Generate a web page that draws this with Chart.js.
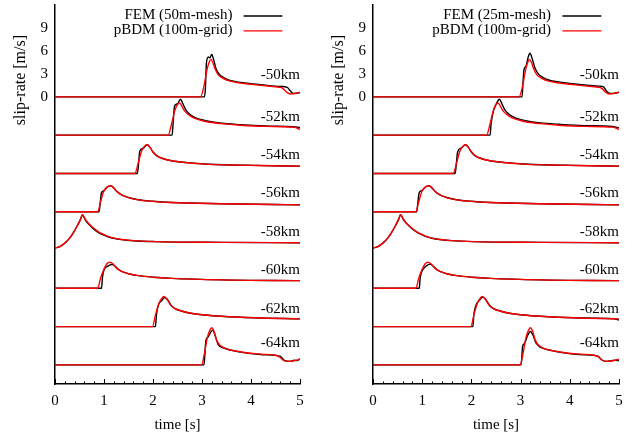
<!DOCTYPE html>
<html>
<head>
<meta charset="utf-8">
<script src="https://cdn.jsdelivr.net/npm/chart.js@4"></script>
<style>
  body { margin: 0; background: #fff; }
  #wrap { position: relative; width: 639px; height: 437px; }
  canvas { position: absolute; top: 0; }
</style>
</head>
<body>
<div id="wrap">
  <canvas id="chart-left" width="320" height="437" style="left:0"></canvas>
  <canvas id="chart-right" width="319" height="437" style="left:320px"></canvas>
</div>
<script>
// stations along the fault, each trace shifted down by offsetStep m/s
const stations   = ['-50km', '-52km', '-54km', '-56km', '-58km', '-60km', '-62km', '-64km']
const offsetStep = 5
const yTickVals  = [0, 3, 6, 9]
const seriesNames = {
  left:  ['FEM (50m-mesh)', 'pBDM (100m-grid)'],
  right: ['FEM (25m-mesh)', 'pBDM (100m-grid)'],
}

// [time s, slip-rate m/s]
const pbdmKm50 = [[0,0],[2.97,0],[3.04,1.4],[3.1,3.5],[3.15,4.6],[3.18,4.9],[3.22,4.5],[3.27,3.6],[3.33,2.9],[3.42,2.45],[3.57,2.05],[3.8,1.8],[4.0,1.65],[4.3,1.45],[4.58,1.25],[4.64,1.15],[4.73,0.6],[4.8,0.38],[4.9,0.45],[5,0.6]]
const pbdmKm52 = [[0,0],[2.31,0],[2.38,1.5],[2.45,3.3],[2.5,4.0],[2.54,4.2],[2.58,3.9],[2.64,3.2],[2.72,2.7],[2.82,2.3],[2.95,2.0],[3.1,1.75],[3.4,1.5],[3.78,1.3],[4.3,1.15],[4.86,1.05],[4.95,0.9],[5,0.75]]
const pbdmKm54 = [[0,0],[1.63,0],[1.7,1.4],[1.76,2.8],[1.82,3.5],[1.88,3.75],[1.94,3.4],[2.0,2.8],[2.08,2.3],[2.2,1.95],[2.38,1.65],[2.7,1.4],[3.06,1.22],[3.6,1.1],[4.08,1.04],[5,0.95]]
const pbdmKm56 = [[0,0],[0.87,0],[0.93,1.3],[0.99,2.6],[1.06,3.2],[1.14,3.4],[1.2,3.1],[1.27,2.6],[1.36,2.2],[1.5,1.85],[1.7,1.55],[2.0,1.35],[2.38,1.2],[3.4,1.05],[5,0.9]]
const pbdmKm58 = [[0,0.25],[0.1,0.45],[0.2,0.9],[0.3,1.55],[0.37,2.2],[0.45,3.1],[0.52,4.0],[0.56,4.6],[0.62,4.0],[0.68,3.5],[0.78,2.9],[0.88,2.4],[1.0,2.0],[1.09,1.75],[1.2,1.55],[1.36,1.37],[1.6,1.22],[2.04,1.1],[3.4,1.0],[5,0.95]]
const pbdmKm60 = [[0,0],[0.87,0],[0.93,1.3],[1.0,2.5],[1.06,3.2],[1.11,3.4],[1.18,3.2],[1.26,2.6],[1.36,2.2],[1.5,1.9],[1.7,1.65],[2.0,1.45],[2.38,1.3],[3.4,1.1],[5,1.0]]
const pbdmKm62 = [[0,0],[1.99,0],[2.05,1.5],[2.12,3.0],[2.18,3.7],[2.22,3.95],[2.28,3.6],[2.36,2.8],[2.45,2.35],[2.6,2.0],[2.72,1.8],[3.0,1.55],[3.4,1.35],[4.08,1.15],[5,1.0]]
const pbdmKm64 = [[0,0],[2.99,0],[3.05,1.5],[3.11,3.6],[3.16,4.5],[3.2,4.85],[3.25,4.3],[3.3,3.2],[3.38,2.5],[3.54,2.0],[3.75,1.75],[3.95,1.55],[4.2,1.4],[4.49,1.25],[4.58,1.05],[4.66,0.6],[4.75,0.45],[4.85,0.5],[5,0.75]]

const fem50mKm50 = [[0,0],[3.05,0],[3.07,1.2],[3.09,4.4],[3.13,5.2],[3.16,5.1],[3.2,5.55],[3.24,4.8],[3.29,3.6],[3.36,2.9],[3.45,2.5],[3.57,2.15],[3.8,1.88],[4.0,1.72],[4.3,1.52],[4.6,1.36],[4.74,1.25],[4.8,0.8],[4.86,0.45],[4.94,0.5],[5,0.55]]
const fem50mKm52 = [[0,0],[2.39,0],[2.41,1.5],[2.44,3.8],[2.5,4.1],[2.56,4.7],[2.61,4.1],[2.67,3.3],[2.74,2.8],[2.84,2.35],[2.95,2.08],[3.1,1.85],[3.4,1.56],[3.78,1.38],[4.3,1.2],[4.86,1.1],[5,1.0]]
const fem50mKm54 = [[0,0],[1.68,0],[1.7,0.9],[1.73,2.9],[1.8,3.3],[1.88,3.75],[1.94,3.4],[2.0,2.8],[2.08,2.3],[2.2,1.95],[2.38,1.66],[2.7,1.42],[3.06,1.23],[3.6,1.1],[4.08,1.05],[5,0.95]]
const fem50mKm56 = [[0,0],[0.9,0],[0.92,1.0],[0.95,2.5],[1.0,2.75],[1.06,3.2],[1.14,3.4],[1.2,3.1],[1.27,2.6],[1.36,2.2],[1.5,1.86],[1.7,1.56],[2.0,1.36],[2.38,1.21],[3.4,1.05],[5,0.9]]
const fem50mKm58 = [[0,0.25],[0.1,0.45],[0.2,0.9],[0.3,1.55],[0.37,2.2],[0.45,3.1],[0.52,4.0],[0.56,4.6],[0.62,3.9],[0.7,3.3],[0.8,2.7],[0.9,2.25],[1.0,1.95],[1.1,1.7],[1.2,1.53],[1.36,1.36],[1.6,1.21],[2.04,1.1],[3.4,1.0],[5,0.95]]
const fem50mKm60 = [[0,0],[0.95,0],[0.97,1.5],[1.0,2.4],[1.08,2.9],[1.17,3.1],[1.24,2.8],[1.3,2.45],[1.36,2.2],[1.5,1.9],[1.7,1.65],[2.0,1.45],[2.38,1.3],[3.4,1.1],[5,1.0]]
const fem50mKm62 = [[0,0],[2.05,0],[2.07,1.5],[2.11,2.8],[2.18,3.4],[2.24,3.8],[2.3,3.5],[2.37,2.75],[2.45,2.35],[2.6,2.0],[2.72,1.8],[3.0,1.55],[3.4,1.35],[4.08,1.15],[5,1.0]]
const fem50mKm64 = [[0,0],[3.04,0],[3.06,1.5],[3.08,3.2],[3.12,3.6],[3.18,4.3],[3.22,4.5],[3.27,3.8],[3.33,2.65],[3.45,2.2],[3.54,2.0],[3.75,1.7],[3.95,1.5],[4.2,1.35],[4.49,1.25],[4.6,1.1],[4.69,0.55],[4.8,0.45],[4.88,0.6],[4.94,0.55],[5,0.8]]

const fem25mKm50 = [[0,0],[3.03,0],[3.05,2.0],[3.07,3.6],[3.11,4.0],[3.15,5.1],[3.19,5.7],[3.24,4.9],[3.29,3.8],[3.36,3.0],[3.45,2.55],[3.57,2.2],[3.8,1.92],[4.0,1.75],[4.3,1.55],[4.6,1.4],[4.68,1.33],[4.74,0.8],[4.8,0.5],[4.88,0.45],[5,0.6]]
const fem25mKm52 = [[0,0],[2.38,0],[2.4,1.5],[2.45,3.2],[2.5,4.0],[2.57,4.7],[2.62,4.1],[2.68,3.3],[2.76,2.75],[2.86,2.35],[2.97,2.08],[3.1,1.88],[3.4,1.6],[3.78,1.42],[4.3,1.25],[4.86,1.15],[5,0.95]]
const fem25mKm54 = [[0,0],[1.67,0],[1.69,1.0],[1.72,2.8],[1.8,3.35],[1.88,3.75],[1.94,3.4],[2.0,2.8],[2.08,2.3],[2.2,1.95],[2.38,1.66],[2.7,1.42],[3.06,1.23],[3.6,1.1],[4.08,1.05],[5,0.95]]
const fem25mKm56 = [[0,0],[0.89,0],[0.91,1.1],[0.94,2.5],[1.0,2.8],[1.06,3.2],[1.14,3.4],[1.2,3.1],[1.27,2.6],[1.36,2.2],[1.5,1.86],[1.7,1.56],[2.0,1.36],[2.38,1.21],[3.4,1.05],[5,0.9]]
const fem25mKm58 = [[0,0.25],[0.1,0.45],[0.2,0.9],[0.3,1.55],[0.37,2.2],[0.45,3.1],[0.52,4.0],[0.56,4.6],[0.62,3.95],[0.7,3.35],[0.8,2.75],[0.9,2.3],[1.0,1.97],[1.1,1.72],[1.2,1.54],[1.36,1.37],[1.6,1.22],[2.04,1.1],[3.4,1.0],[5,0.95]]
const fem25mKm60 = [[0,0],[0.94,0],[0.96,1.4],[1.0,2.3],[1.08,2.9],[1.16,3.15],[1.23,2.85],[1.3,2.45],[1.36,2.2],[1.5,1.9],[1.7,1.65],[2.0,1.45],[2.38,1.3],[3.4,1.1],[5,1.0]]
const fem25mKm62 = [[0,0],[2.03,0],[2.05,1.6],[2.1,2.9],[2.17,3.5],[2.23,3.85],[2.29,3.55],[2.37,2.75],[2.45,2.35],[2.6,2.0],[2.72,1.8],[3.0,1.55],[3.4,1.35],[4.08,1.15],[4.9,1.0],[5,0.85]]
const fem25mKm64 = [[0,0],[3.01,0],[3.03,1.5],[3.04,2.4],[3.08,2.8],[3.14,3.8],[3.2,4.35],[3.25,3.9],[3.31,2.9],[3.4,2.3],[3.54,2.0],[3.75,1.7],[3.95,1.5],[4.2,1.35],[4.49,1.25],[4.58,1.1],[4.66,0.6],[4.75,0.45],[4.85,0.55],[4.92,0.6],[5,0.55]]

const pbdm  = [pbdmKm50, pbdmKm52, pbdmKm54, pbdmKm56, pbdmKm58, pbdmKm60, pbdmKm62, pbdmKm64]
const fem50 = [fem50mKm50, fem50mKm52, fem50mKm54, fem50mKm56, fem50mKm58, fem50mKm60, fem50mKm62, fem50mKm64]
const fem25 = [fem25mKm50, fem25mKm52, fem25mKm54, fem25mKm56, fem25mKm58, fem25mKm60, fem25mKm62, fem25mKm64]

// how far above each baseline the station name sits (m/s)
const labelLift = [2.9, 2.4, 2.35, 2.4, 2.4, 2.4, 2.3, 2.85]

const FONT = "'Liberation Serif', 'DejaVu Serif', serif"
const RED = '#ff0000'
const BLACK = '#000000'

function traceSet(fem, names) {
  const sets = []
  stations.forEach((st, i) => {
    const shift = -i * offsetStep
    sets.push({
      label: `${names[0]} ${st}`,
      data: fem[i].map(([t, v]) => ({ x: t, y: v + shift })),
      borderColor: BLACK, borderWidth: 1.4, order: 1,
    })
    sets.push({
      label: `${names[1]} ${st}`,
      data: pbdm[i].map(([t, v]) => ({ x: t, y: v + shift })),
      borderColor: RED, borderWidth: 1.4, order: 0,
    })
  })
  return sets.map(s => ({ ...s, pointRadius: 0, fill: false, cubicInterpolationMode: 'monotone' }))
}

const decor = {
  id: 'decor',
  afterDraw(chart, args, opts) {
    const { ctx, chartArea: a, scales: { x, y } } = chart
    ctx.save()

    // inward ticks on the time axis
    ctx.strokeStyle = '#000'; ctx.lineWidth = 1
    for (let i = 0; i <= 25; i++) {
      const px = Math.round(x.getPixelForValue(i / 5)) + 0.5
      const len = i % 5 === 0 ? 5 : 2.5
      ctx.beginPath(); ctx.moveTo(px, a.bottom); ctx.lineTo(px, a.bottom - len); ctx.stroke()
    }

    // station names
    ctx.fillStyle = '#000'
    ctx.font = `15px ${FONT}`
    ctx.textAlign = 'right'; ctx.textBaseline = 'middle'
    stations.forEach((st, i) => {
      ctx.fillText(st, x.getPixelForValue(5), y.getPixelForValue(-i * offsetStep + labelLift[i]))
    })

    // legend: text then line sample to the right
    const legendRows = [[opts.names[0], BLACK, 10.7], [opts.names[1], RED, 8.75]]
    legendRows.forEach(([txt, col, v]) => {
      const py = y.getPixelForValue(v)
      ctx.fillStyle = '#000'
      ctx.fillText(txt, x.getPixelForValue(3.62), py)
      ctx.strokeStyle = col; ctx.lineWidth = 1.4
      ctx.beginPath()
      ctx.moveTo(x.getPixelForValue(3.85), py + 1)
      ctx.lineTo(x.getPixelForValue(4.64), py + 1)
      ctx.stroke()
    })

    // y title, gnuplot puts it high up
    ctx.translate(a.left - 34, y.getPixelForValue(2.2))
    ctx.rotate(-Math.PI / 2)
    ctx.textAlign = 'center'
    ctx.font = `16px ${FONT}`
    ctx.fillStyle = '#000'
    ctx.fillText('slip-rate [m/s]', 0, 0)
    ctx.restore()
  },
}

function makeChart(id, fem, names, yWidth) {
  return new Chart(document.getElementById(id), {
    type: 'line',
    data: { datasets: traceSet(fem, names) },
    options: {
      responsive: false,
      devicePixelRatio: 1,
      animation: false,
      layout: { padding: { left: 0, right: 20, top: 5, bottom: 0 } },
      plugins: { legend: { display: false }, tooltip: { enabled: false }, decor: { names } },
      scales: {
        x: {
          type: 'linear', min: 0, max: 5,
          grid: { display: false, drawTicks: false },
          border: { display: true, color: '#000', width: 1.5 },
          ticks: { stepSize: 1, color: '#000', padding: 8, font: { family: FONT, size: 15 } },
          title: { display: true, text: 'time [s]', color: '#000', padding: { top: 0, bottom: 3 }, font: { family: FONT, size: 15 } },
          afterFit: s => { s.height = 53; s.paddingLeft = 0; s.paddingRight = 0 },
        },
        y: {
          min: -37.5, max: 12,
          grid: { display: false, drawTicks: false },
          border: { display: true, color: '#000', width: 1.5 },
          ticks: { color: '#000', padding: 7, font: { family: FONT, size: 15 } },
          afterBuildTicks: s => { s.ticks = yTickVals.map(v => ({ value: v })) },
          afterFit: s => { s.width = yWidth; s.paddingTop = 0; s.paddingBottom = 0 },
        },
      },
    },
    plugins: [decor],
  })
}

makeChart('chart-left', fem50, seriesNames.left, 55)
makeChart('chart-right', fem25, seriesNames.right, 53)
</script>
</body>
</html>
